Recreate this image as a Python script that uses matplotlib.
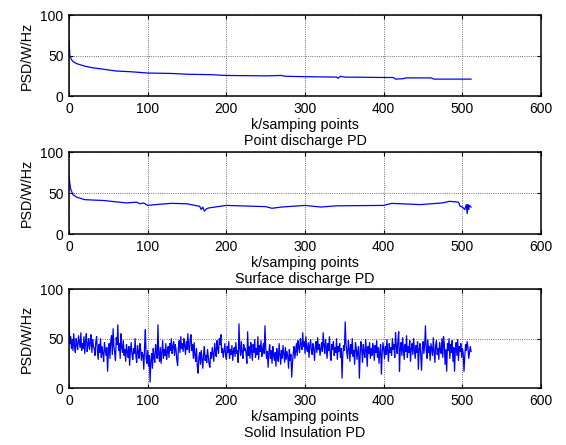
import numpy as np
import matplotlib
matplotlib.use("Agg")
import matplotlib.pyplot as plt

plt.rcParams['font.family'] = ['Liberation Sans', 'DejaVu Sans']

# point discharge: key points
pd1_x = [0, 1, 3, 6, 10, 20, 30, 45, 60, 80, 100, 130, 150, 180, 200, 250, 270, 275,
         300, 340, 342, 345, 350, 400, 412, 415, 425, 428, 460, 464, 511]
pd1_y = [68, 50, 45, 42, 40, 37, 35, 33, 31, 30, 28.5, 28, 27, 26.5, 25.5, 25, 25.5, 24.5,
         24, 23.5, 22, 24.5, 23.5, 23, 23, 21, 21.5, 22.5, 22.5, 21, 21]

# surface discharge
pd2_x = [0, 2, 5, 10, 20, 44, 73, 86, 90, 95, 100, 110, 130, 150, 160, 166, 168, 170, 172,
         175, 178, 200, 250, 258, 270, 300, 320, 340, 400, 410, 446, 474, 484, 495, 497,
         500, 503, 505, 506, 507, 508, 509, 511]
pd2_y = [69, 55, 48, 45, 42, 41, 38, 39, 37, 38, 35, 36, 37.5, 37, 35, 34, 30, 33, 28,
         31, 32, 35, 33.5, 31.5, 33, 35, 33, 34.5, 35, 37.5, 36, 38, 40, 39, 34,
         33, 30, 36, 25, 36, 30, 35, 33]

# solid insulation (512 samples)
pd3_y = [
    68, 45, 52, 40, 48, 38, 55, 42, 36, 50, 44, 39, 53, 47, 41, 56, 38, 45, 40, 52, 35, 48, 55, 37, 44, 50, 39, 46, 54, 36, 49, 42,
    40, 33, 47, 52, 38, 29, 44, 36, 50, 31, 42, 35, 27, 46, 39, 33, 41, 17, 37, 45, 30, 48, 53, 34, 60, 42, 36, 28, 51, 44, 64, 38,
    45, 30, 55, 41, 36, 48, 33, 39, 27, 44, 37, 31, 42, 23, 38, 46, 34, 29, 40, 35, 50, 32, 26, 43, 37, 30, 45, 39, 28, 36, 33, 19,
    42, 59, 30, 25, 38, 22, 33, 6, 28, 35, 20, 40, 31, 26, 44, 36, 30, 64, 34, 27, 41, 25, 36, 48, 30, 39, 33, 45, 29, 37, 42, 31,
    45, 38, 50, 35, 42, 47, 33, 44, 39, 28, 23, 41, 48, 36, 52, 40, 45, 37, 50, 43, 34, 47, 39, 55, 42, 36, 49, 54, 38, 44, 30, 46,
    33, 27, 40, 22, 15, 31, 36, 24, 38, 29, 20, 35, 42, 28, 33, 26, 39, 31, 24, 21, 36, 30, 41, 34, 27, 45, 38, 32, 48, 40, 35, 50,
    44, 54, 36, 40, 31, 38, 45, 33, 29, 42, 36, 47, 30, 39, 34, 43, 28, 37, 41, 32, 46, 35, 38, 26, 65, 40, 33, 47, 36, 30, 44, 38,
    40, 35, 25, 57, 33, 42, 30, 46, 38, 28, 44, 36, 49, 31, 40, 34, 52, 29, 43, 37, 48, 32, 39, 45, 35, 63, 41, 30, 37, 21, 36, 44,
    30, 38, 25, 42, 33, 28, 36, 22, 40, 31, 27, 45, 34, 24, 38, 30, 43, 35, 26, 41, 29, 37, 32, 20, 39, 28, 34, 11, 25, 36, 42, 30,
    38, 45, 33, 48, 41, 36, 50, 44, 39, 56, 42, 47, 35, 52, 40, 37, 46, 31, 43, 49, 38, 34, 45, 40, 28, 42, 47, 36, 51, 39, 44, 33,
    40, 46, 37, 56, 43, 35, 49, 41, 30, 45, 38, 52, 34, 28, 44, 39, 47, 33, 41, 36, 50, 29, 42, 37, 45, 31, 40, 10, 35, 43, 38, 67,
    45, 36, 30, 48, 40, 27, 44, 35, 50, 32, 38, 24, 46, 41, 29, 37, 42, 10, 33, 47, 39, 26, 44, 36, 31, 49, 38, 22, 42, 35, 46, 30,
    40, 33, 45, 38, 28, 43, 36, 48, 31, 41, 25, 37, 44, 14, 35, 46, 39, 30, 42, 34, 49, 38, 27, 45, 36, 41, 33, 50, 39, 44, 31, 56,
    42, 35, 48, 57, 17, 40, 46, 33, 51, 38, 29, 44, 37, 53, 31, 42, 36, 48, 27, 40, 45, 34, 50, 38, 30, 43, 36, 47, 19, 39, 45, 33,
    18, 40, 47, 35, 44, 63, 38, 30, 49, 36, 42, 28, 45, 39, 33, 51, 37, 26, 43, 48, 34, 40, 29, 46, 38, 35, 50, 31, 52, 44, 24, 39,
    17, 45, 38, 50, 30, 44, 36, 48, 27, 41, 17, 39, 46, 33, 49, 28, 42, 37, 45, 31, 40, 35, 17, 32, 44, 38, 47, 41, 30, 36, 42, 37,
]
pd3_x = np.arange(len(pd3_y))

titles = ["Point discharge PD", "Surface discharge PD", "Solid Insulation PD"]
xticks = [0, 100, 200, 300, 400, 500, 600]
yticks = [0, 50, 100]

fig = plt.figure(figsize=(5.66, 4.45), dpi=100)
boxes = [[0.122, 0.784, 0.834, 0.182],
         [0.122, 0.474, 0.834, 0.184],
         [0.122, 0.128, 0.834, 0.222]]
series = [(pd1_x, pd1_y), (pd2_x, pd2_y), (pd3_x, pd3_y)]

for box, (xs, ys), ttl in zip(boxes, series, titles):
    ax = fig.add_axes(box)
    ax.plot(xs, ys, color='blue', lw=0.9)
    ax.set_xlim(0, 600)
    ax.set_ylim(0, 100)
    ax.set_xticks(xticks)
    ax.set_yticks(yticks)
    ax.grid(True, color='#444444', linestyle=':', lw=0.6)
    ax.tick_params(direction='in', top=True, right=True, length=3, labelsize=10, pad=4)
    for s in ax.spines.values():
        s.set_linewidth(1.1)
    ax.set_xlabel("k/samping points\n" + ttl, fontsize=10.3, linespacing=1.15, labelpad=2)
    ax.set_ylabel("PSD/W/Hz", fontsize=10.3, labelpad=5)

fig.savefig("out.png", dpi=100)
